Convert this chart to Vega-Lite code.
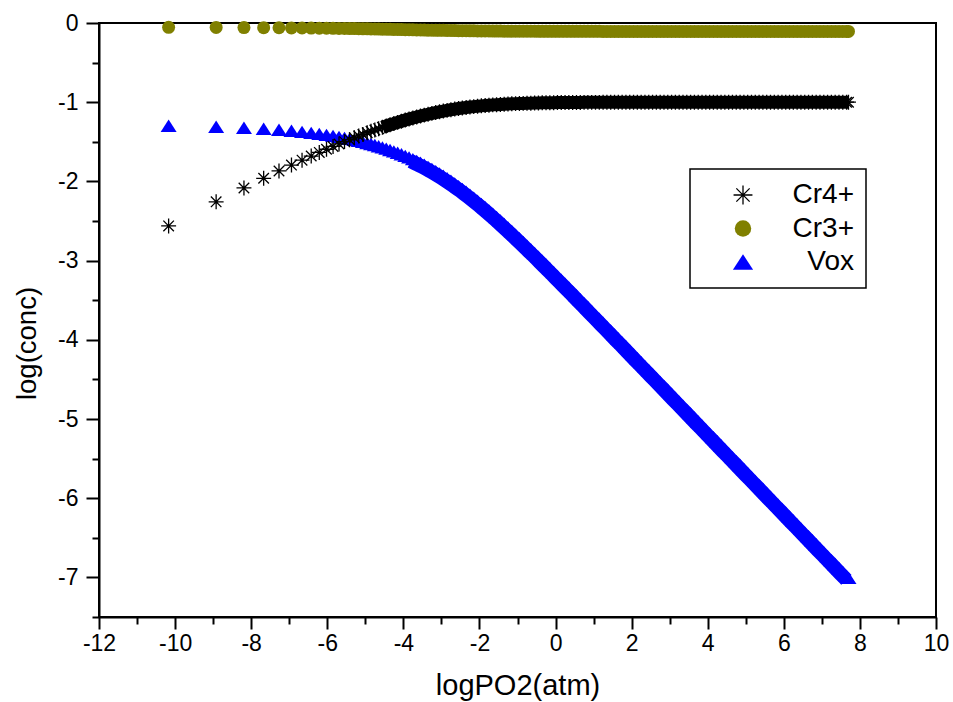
{
"$schema":"https://vega.github.io/schema/vega-lite/v6.json",
"width":837,"height":594,
"autosize":{"type":"none"},
"padding":{"left":99,"top":23,"right":17,"bottom":85},
"background":"white",
"config":{
"view":{"stroke":"black","strokeWidth":2},
"font":"Liberation Sans",
"axis":{"domainColor":"black","domainWidth":2,"tickColor":"black","tickWidth":2,"labelColor":"black","titleColor":"black","grid":false,"labelFont":"Liberation Sans","titleFont":"Liberation Sans","titleFontWeight":"normal"},
"legend":{"strokeWidth":1.5}
},
"data":{"values":[
{"x":-10.17,"y":-1.297,"s":"Vox"},{"x":-8.921,"y":-1.31,"s":"Vox"},{"x":-8.19,"y":-1.322,"s":"Vox"},{"x":-7.672,"y":-1.335,"s":"Vox"},{"x":-7.269,"y":-1.348,"s":"Vox"},{"x":-6.941,"y":-1.361,"s":"Vox"},{"x":-6.663,"y":-1.374,"s":"Vox"},{"x":-6.422,"y":-1.387,"s":"Vox"},{"x":-6.21,"y":-1.4,"s":"Vox"},{"x":-6.02,"y":-1.413,"s":"Vox"},{"x":-5.848,"y":-1.425,"s":"Vox"},{"x":-5.691,"y":-1.438,"s":"Vox"},{"x":-5.547,"y":-1.451,"s":"Vox"},{"x":-5.414,"y":-1.463,"s":"Vox"},{"x":-5.289,"y":-1.476,"s":"Vox"},{"x":-5.173,"y":-1.489,"s":"Vox"},{"x":-5.064,"y":-1.501,"s":"Vox"},
{"x":-4.95,"y":-1.515,"s":"Vox"},{"x":-4.85,"y":-1.528,"s":"Vox"},{"x":-4.75,"y":-1.541,"s":"Vox"},{"x":-4.65,"y":-1.556,"s":"Vox"},{"x":-4.55,"y":-1.57,"s":"Vox"},{"x":-4.45,"y":-1.586,"s":"Vox"},{"x":-4.35,"y":-1.603,"s":"Vox"},{"x":-4.25,"y":-1.62,"s":"Vox"},{"x":-4.15,"y":-1.638,"s":"Vox"},{"x":-4.05,"y":-1.657,"s":"Vox"},
{"x":-3.95,"y":-1.677,"s":"Vox"},{"x":-3.85,"y":-1.697,"s":"Vox"},{"x":-3.75,"y":-1.719,"s":"Vox"},{"x":-3.65,"y":-1.742,"s":"Vox"},{"x":-3.55,"y":-1.765,"s":"Vox"},{"x":-3.45,"y":-1.79,"s":"Vox"},{"x":-3.35,"y":-1.816,"s":"Vox"},{"x":-3.25,"y":-1.842,"s":"Vox"},{"x":-3.15,"y":-1.87,"s":"Vox"},{"x":-3.05,"y":-1.899,"s":"Vox"},
{"x":-2.95,"y":-1.929,"s":"Vox"},{"x":-2.85,"y":-1.96,"s":"Vox"},{"x":-2.75,"y":-1.992,"s":"Vox"},{"x":-2.65,"y":-2.025,"s":"Vox"},{"x":-2.55,"y":-2.059,"s":"Vox"},{"x":-2.45,"y":-2.094,"s":"Vox"},{"x":-2.35,"y":-2.13,"s":"Vox"},{"x":-2.25,"y":-2.167,"s":"Vox"},{"x":-2.15,"y":-2.205,"s":"Vox"},{"x":-2.05,"y":-2.244,"s":"Vox"},
{"x":-1.95,"y":-2.283,"s":"Vox"},{"x":-1.85,"y":-2.324,"s":"Vox"},{"x":-1.75,"y":-2.365,"s":"Vox"},{"x":-1.65,"y":-2.407,"s":"Vox"},{"x":-1.55,"y":-2.45,"s":"Vox"},{"x":-1.45,"y":-2.493,"s":"Vox"},{"x":-1.35,"y":-2.537,"s":"Vox"},{"x":-1.25,"y":-2.581,"s":"Vox"},{"x":-1.15,"y":-2.626,"s":"Vox"},{"x":-1.05,"y":-2.672,"s":"Vox"},
{"x":-0.95,"y":-2.717,"s":"Vox"},{"x":-0.85,"y":-2.764,"s":"Vox"},{"x":-0.75,"y":-2.81,"s":"Vox"},{"x":-0.65,"y":-2.857,"s":"Vox"},{"x":-0.55,"y":-2.904,"s":"Vox"},{"x":-0.45,"y":-2.952,"s":"Vox"},{"x":-0.35,"y":-3.0,"s":"Vox"},{"x":-0.25,"y":-3.048,"s":"Vox"},{"x":-0.15,"y":-3.096,"s":"Vox"},{"x":-0.05,"y":-3.144,"s":"Vox"},
{"x":0.05,"y":-3.193,"s":"Vox"},{"x":0.15,"y":-3.242,"s":"Vox"},{"x":0.25,"y":-3.29,"s":"Vox"},{"x":0.35,"y":-3.339,"s":"Vox"},{"x":0.45,"y":-3.388,"s":"Vox"},{"x":0.55,"y":-3.438,"s":"Vox"},{"x":0.65,"y":-3.487,"s":"Vox"},{"x":0.75,"y":-3.536,"s":"Vox"},{"x":0.85,"y":-3.586,"s":"Vox"},{"x":0.95,"y":-3.635,"s":"Vox"},
{"x":1.05,"y":-3.685,"s":"Vox"},{"x":1.15,"y":-3.734,"s":"Vox"},{"x":1.25,"y":-3.784,"s":"Vox"},{"x":1.35,"y":-3.834,"s":"Vox"},{"x":1.45,"y":-3.883,"s":"Vox"},{"x":1.55,"y":-3.933,"s":"Vox"},{"x":1.65,"y":-3.983,"s":"Vox"},{"x":1.75,"y":-4.032,"s":"Vox"},{"x":1.85,"y":-4.082,"s":"Vox"},{"x":1.95,"y":-4.132,"s":"Vox"},
{"x":2.05,"y":-4.182,"s":"Vox"},{"x":2.15,"y":-4.232,"s":"Vox"},{"x":2.25,"y":-4.282,"s":"Vox"},{"x":2.35,"y":-4.332,"s":"Vox"},{"x":2.45,"y":-4.381,"s":"Vox"},{"x":2.55,"y":-4.431,"s":"Vox"},{"x":2.65,"y":-4.481,"s":"Vox"},{"x":2.75,"y":-4.531,"s":"Vox"},{"x":2.85,"y":-4.581,"s":"Vox"},{"x":2.95,"y":-4.631,"s":"Vox"},
{"x":3.05,"y":-4.681,"s":"Vox"},{"x":3.15,"y":-4.731,"s":"Vox"},{"x":3.25,"y":-4.781,"s":"Vox"},{"x":3.35,"y":-4.831,"s":"Vox"},{"x":3.45,"y":-4.881,"s":"Vox"},{"x":3.55,"y":-4.931,"s":"Vox"},{"x":3.65,"y":-4.981,"s":"Vox"},{"x":3.75,"y":-5.031,"s":"Vox"},{"x":3.85,"y":-5.081,"s":"Vox"},{"x":3.95,"y":-5.131,"s":"Vox"},
{"x":4.05,"y":-5.181,"s":"Vox"},{"x":4.15,"y":-5.231,"s":"Vox"},{"x":4.25,"y":-5.281,"s":"Vox"},{"x":4.35,"y":-5.331,"s":"Vox"},{"x":4.45,"y":-5.381,"s":"Vox"},{"x":4.55,"y":-5.431,"s":"Vox"},{"x":4.65,"y":-5.481,"s":"Vox"},{"x":4.75,"y":-5.531,"s":"Vox"},{"x":4.85,"y":-5.581,"s":"Vox"},{"x":4.95,"y":-5.631,"s":"Vox"},
{"x":5.05,"y":-5.681,"s":"Vox"},{"x":5.15,"y":-5.731,"s":"Vox"},{"x":5.25,"y":-5.781,"s":"Vox"},{"x":5.35,"y":-5.831,"s":"Vox"},{"x":5.45,"y":-5.881,"s":"Vox"},{"x":5.55,"y":-5.931,"s":"Vox"},{"x":5.65,"y":-5.981,"s":"Vox"},{"x":5.75,"y":-6.031,"s":"Vox"},{"x":5.85,"y":-6.081,"s":"Vox"},{"x":5.95,"y":-6.131,"s":"Vox"},
{"x":6.05,"y":-6.181,"s":"Vox"},{"x":6.15,"y":-6.231,"s":"Vox"},{"x":6.25,"y":-6.281,"s":"Vox"},{"x":6.35,"y":-6.331,"s":"Vox"},{"x":6.45,"y":-6.381,"s":"Vox"},{"x":6.55,"y":-6.431,"s":"Vox"},{"x":6.65,"y":-6.481,"s":"Vox"},{"x":6.75,"y":-6.531,"s":"Vox"},{"x":6.85,"y":-6.581,"s":"Vox"},{"x":6.95,"y":-6.631,"s":"Vox"},
{"x":7.05,"y":-6.681,"s":"Vox"},{"x":7.15,"y":-6.731,"s":"Vox"},{"x":7.25,"y":-6.781,"s":"Vox"},{"x":7.35,"y":-6.831,"s":"Vox"},{"x":7.45,"y":-6.881,"s":"Vox"},{"x":7.55,"y":-6.931,"s":"Vox"},{"x":7.65,"y":-6.981,"s":"Vox"},{"x":7.7,"y":-7.006,"s":"Vox"},

{"x":-10.17,"y":-0.055,"s":"Cr3+"},{"x":-8.921,"y":-0.056,"s":"Cr3+"},{"x":-8.19,"y":-0.058,"s":"Cr3+"},{"x":-7.672,"y":-0.059,"s":"Cr3+"},{"x":-7.269,"y":-0.06,"s":"Cr3+"},{"x":-6.941,"y":-0.062,"s":"Cr3+"},{"x":-6.663,"y":-0.063,"s":"Cr3+"},{"x":-6.422,"y":-0.064,"s":"Cr3+"},{"x":-6.21,"y":-0.065,"s":"Cr3+"},{"x":-6.02,"y":-0.066,"s":"Cr3+"},{"x":-5.848,"y":-0.067,"s":"Cr3+"},{"x":-5.691,"y":-0.068,"s":"Cr3+"},{"x":-5.547,"y":-0.069,"s":"Cr3+"},{"x":-5.414,"y":-0.07,"s":"Cr3+"},{"x":-5.289,"y":-0.071,"s":"Cr3+"},{"x":-5.173,"y":-0.072,"s":"Cr3+"},{"x":-5.064,"y":-0.073,"s":"Cr3+"},
{"x":-4.95,"y":-0.074,"s":"Cr3+"},{"x":-4.85,"y":-0.075,"s":"Cr3+"},{"x":-4.75,"y":-0.076,"s":"Cr3+"},{"x":-4.65,"y":-0.077,"s":"Cr3+"},{"x":-4.55,"y":-0.078,"s":"Cr3+"},{"x":-4.45,"y":-0.079,"s":"Cr3+"},{"x":-4.35,"y":-0.08,"s":"Cr3+"},{"x":-4.25,"y":-0.081,"s":"Cr3+"},{"x":-4.15,"y":-0.082,"s":"Cr3+"},{"x":-4.05,"y":-0.083,"s":"Cr3+"},
{"x":-3.95,"y":-0.084,"s":"Cr3+"},{"x":-3.85,"y":-0.085,"s":"Cr3+"},{"x":-3.75,"y":-0.086,"s":"Cr3+"},{"x":-3.65,"y":-0.087,"s":"Cr3+"},{"x":-3.55,"y":-0.088,"s":"Cr3+"},{"x":-3.45,"y":-0.089,"s":"Cr3+"},{"x":-3.35,"y":-0.09,"s":"Cr3+"},{"x":-3.25,"y":-0.091,"s":"Cr3+"},{"x":-3.15,"y":-0.092,"s":"Cr3+"},{"x":-3.05,"y":-0.093,"s":"Cr3+"},
{"x":-2.95,"y":-0.093,"s":"Cr3+"},{"x":-2.85,"y":-0.094,"s":"Cr3+"},{"x":-2.75,"y":-0.095,"s":"Cr3+"},{"x":-2.65,"y":-0.096,"s":"Cr3+"},{"x":-2.55,"y":-0.097,"s":"Cr3+"},{"x":-2.45,"y":-0.097,"s":"Cr3+"},{"x":-2.35,"y":-0.098,"s":"Cr3+"},{"x":-2.25,"y":-0.099,"s":"Cr3+"},{"x":-2.15,"y":-0.099,"s":"Cr3+"},{"x":-2.05,"y":-0.1,"s":"Cr3+"},
{"x":-1.95,"y":-0.1,"s":"Cr3+"},{"x":-1.85,"y":-0.101,"s":"Cr3+"},{"x":-1.75,"y":-0.101,"s":"Cr3+"},{"x":-1.65,"y":-0.102,"s":"Cr3+"},{"x":-1.55,"y":-0.102,"s":"Cr3+"},{"x":-1.45,"y":-0.102,"s":"Cr3+"},{"x":-1.35,"y":-0.103,"s":"Cr3+"},{"x":-1.25,"y":-0.103,"s":"Cr3+"},{"x":-1.15,"y":-0.103,"s":"Cr3+"},{"x":-1.05,"y":-0.103,"s":"Cr3+"},
{"x":-0.95,"y":-0.104,"s":"Cr3+"},{"x":-0.85,"y":-0.104,"s":"Cr3+"},{"x":-0.75,"y":-0.104,"s":"Cr3+"},{"x":-0.65,"y":-0.104,"s":"Cr3+"},{"x":-0.55,"y":-0.104,"s":"Cr3+"},{"x":-0.45,"y":-0.105,"s":"Cr3+"},{"x":-0.35,"y":-0.105,"s":"Cr3+"},{"x":-0.25,"y":-0.105,"s":"Cr3+"},{"x":-0.15,"y":-0.105,"s":"Cr3+"},{"x":-0.05,"y":-0.105,"s":"Cr3+"},
{"x":0.05,"y":-0.105,"s":"Cr3+"},{"x":0.15,"y":-0.105,"s":"Cr3+"},{"x":0.25,"y":-0.105,"s":"Cr3+"},{"x":0.35,"y":-0.105,"s":"Cr3+"},{"x":0.45,"y":-0.105,"s":"Cr3+"},{"x":0.55,"y":-0.105,"s":"Cr3+"},{"x":0.65,"y":-0.105,"s":"Cr3+"},{"x":0.75,"y":-0.105,"s":"Cr3+"},{"x":0.85,"y":-0.105,"s":"Cr3+"},{"x":0.95,"y":-0.105,"s":"Cr3+"},
{"x":1.05,"y":-0.105,"s":"Cr3+"},{"x":1.15,"y":-0.105,"s":"Cr3+"},{"x":1.25,"y":-0.106,"s":"Cr3+"},{"x":1.35,"y":-0.106,"s":"Cr3+"},{"x":1.45,"y":-0.106,"s":"Cr3+"},{"x":1.55,"y":-0.106,"s":"Cr3+"},{"x":1.65,"y":-0.106,"s":"Cr3+"},{"x":1.75,"y":-0.106,"s":"Cr3+"},{"x":1.85,"y":-0.106,"s":"Cr3+"},{"x":1.95,"y":-0.106,"s":"Cr3+"},
{"x":2.05,"y":-0.106,"s":"Cr3+"},{"x":2.15,"y":-0.106,"s":"Cr3+"},{"x":2.25,"y":-0.106,"s":"Cr3+"},{"x":2.35,"y":-0.106,"s":"Cr3+"},{"x":2.45,"y":-0.106,"s":"Cr3+"},{"x":2.55,"y":-0.106,"s":"Cr3+"},{"x":2.65,"y":-0.106,"s":"Cr3+"},{"x":2.75,"y":-0.106,"s":"Cr3+"},{"x":2.85,"y":-0.106,"s":"Cr3+"},{"x":2.95,"y":-0.106,"s":"Cr3+"},
{"x":3.05,"y":-0.106,"s":"Cr3+"},{"x":3.15,"y":-0.106,"s":"Cr3+"},{"x":3.25,"y":-0.106,"s":"Cr3+"},{"x":3.35,"y":-0.106,"s":"Cr3+"},{"x":3.45,"y":-0.106,"s":"Cr3+"},{"x":3.55,"y":-0.106,"s":"Cr3+"},{"x":3.65,"y":-0.106,"s":"Cr3+"},{"x":3.75,"y":-0.106,"s":"Cr3+"},{"x":3.85,"y":-0.106,"s":"Cr3+"},{"x":3.95,"y":-0.106,"s":"Cr3+"},
{"x":4.05,"y":-0.106,"s":"Cr3+"},{"x":4.15,"y":-0.106,"s":"Cr3+"},{"x":4.25,"y":-0.106,"s":"Cr3+"},{"x":4.35,"y":-0.106,"s":"Cr3+"},{"x":4.45,"y":-0.106,"s":"Cr3+"},{"x":4.55,"y":-0.106,"s":"Cr3+"},{"x":4.65,"y":-0.106,"s":"Cr3+"},{"x":4.75,"y":-0.106,"s":"Cr3+"},{"x":4.85,"y":-0.106,"s":"Cr3+"},{"x":4.95,"y":-0.106,"s":"Cr3+"},
{"x":5.05,"y":-0.106,"s":"Cr3+"},{"x":5.15,"y":-0.106,"s":"Cr3+"},{"x":5.25,"y":-0.106,"s":"Cr3+"},{"x":5.35,"y":-0.106,"s":"Cr3+"},{"x":5.45,"y":-0.106,"s":"Cr3+"},{"x":5.55,"y":-0.106,"s":"Cr3+"},{"x":5.65,"y":-0.106,"s":"Cr3+"},{"x":5.75,"y":-0.106,"s":"Cr3+"},{"x":5.85,"y":-0.106,"s":"Cr3+"},{"x":5.95,"y":-0.106,"s":"Cr3+"},
{"x":6.05,"y":-0.106,"s":"Cr3+"},{"x":6.15,"y":-0.106,"s":"Cr3+"},{"x":6.25,"y":-0.106,"s":"Cr3+"},{"x":6.35,"y":-0.106,"s":"Cr3+"},{"x":6.45,"y":-0.106,"s":"Cr3+"},{"x":6.55,"y":-0.106,"s":"Cr3+"},{"x":6.65,"y":-0.106,"s":"Cr3+"},{"x":6.75,"y":-0.106,"s":"Cr3+"},{"x":6.85,"y":-0.106,"s":"Cr3+"},{"x":6.95,"y":-0.106,"s":"Cr3+"},
{"x":7.05,"y":-0.106,"s":"Cr3+"},{"x":7.15,"y":-0.106,"s":"Cr3+"},{"x":7.25,"y":-0.106,"s":"Cr3+"},{"x":7.35,"y":-0.106,"s":"Cr3+"},{"x":7.45,"y":-0.106,"s":"Cr3+"},{"x":7.55,"y":-0.106,"s":"Cr3+"},{"x":7.65,"y":-0.106,"s":"Cr3+"},{"x":7.7,"y":-0.106,"s":"Cr3+"},

{"x":-10.17,"y":-2.562,"s":"Cr4+"},{"x":-8.921,"y":-2.258,"s":"Cr4+"},{"x":-8.19,"y":-2.083,"s":"Cr4+"},{"x":-7.672,"y":-1.961,"s":"Cr4+"},{"x":-7.269,"y":-1.868,"s":"Cr4+"},{"x":-6.941,"y":-1.794,"s":"Cr4+"},{"x":-6.663,"y":-1.732,"s":"Cr4+"},{"x":-6.422,"y":-1.68,"s":"Cr4+"},{"x":-6.21,"y":-1.634,"s":"Cr4+"},{"x":-6.02,"y":-1.594,"s":"Cr4+"},{"x":-5.848,"y":-1.559,"s":"Cr4+"},{"x":-5.691,"y":-1.527,"s":"Cr4+"},{"x":-5.547,"y":-1.498,"s":"Cr4+"},{"x":-5.414,"y":-1.473,"s":"Cr4+"},{"x":-5.289,"y":-1.449,"s":"Cr4+"},{"x":-5.173,"y":-1.427,"s":"Cr4+"},{"x":-5.064,"y":-1.407,"s":"Cr4+"},
{"x":-4.95,"y":-1.386,"s":"Cr4+"},{"x":-4.85,"y":-1.368,"s":"Cr4+"},{"x":-4.75,"y":-1.351,"s":"Cr4+"},{"x":-4.65,"y":-1.334,"s":"Cr4+"},{"x":-4.55,"y":-1.317,"s":"Cr4+"},{"x":-4.45,"y":-1.301,"s":"Cr4+"},{"x":-4.35,"y":-1.285,"s":"Cr4+"},{"x":-4.25,"y":-1.27,"s":"Cr4+"},{"x":-4.15,"y":-1.255,"s":"Cr4+"},{"x":-4.05,"y":-1.24,"s":"Cr4+"},
{"x":-3.95,"y":-1.226,"s":"Cr4+"},{"x":-3.85,"y":-1.212,"s":"Cr4+"},{"x":-3.75,"y":-1.199,"s":"Cr4+"},{"x":-3.65,"y":-1.187,"s":"Cr4+"},{"x":-3.55,"y":-1.174,"s":"Cr4+"},{"x":-3.45,"y":-1.163,"s":"Cr4+"},{"x":-3.35,"y":-1.152,"s":"Cr4+"},{"x":-3.25,"y":-1.141,"s":"Cr4+"},{"x":-3.15,"y":-1.131,"s":"Cr4+"},{"x":-3.05,"y":-1.121,"s":"Cr4+"},
{"x":-2.95,"y":-1.112,"s":"Cr4+"},{"x":-2.85,"y":-1.103,"s":"Cr4+"},{"x":-2.75,"y":-1.095,"s":"Cr4+"},{"x":-2.65,"y":-1.087,"s":"Cr4+"},{"x":-2.55,"y":-1.08,"s":"Cr4+"},{"x":-2.45,"y":-1.073,"s":"Cr4+"},{"x":-2.35,"y":-1.067,"s":"Cr4+"},{"x":-2.25,"y":-1.061,"s":"Cr4+"},{"x":-2.15,"y":-1.056,"s":"Cr4+"},{"x":-2.05,"y":-1.051,"s":"Cr4+"},
{"x":-1.95,"y":-1.046,"s":"Cr4+"},{"x":-1.85,"y":-1.042,"s":"Cr4+"},{"x":-1.75,"y":-1.038,"s":"Cr4+"},{"x":-1.65,"y":-1.034,"s":"Cr4+"},{"x":-1.55,"y":-1.031,"s":"Cr4+"},{"x":-1.45,"y":-1.028,"s":"Cr4+"},{"x":-1.35,"y":-1.025,"s":"Cr4+"},{"x":-1.25,"y":-1.023,"s":"Cr4+"},{"x":-1.15,"y":-1.02,"s":"Cr4+"},{"x":-1.05,"y":-1.018,"s":"Cr4+"},
{"x":-0.95,"y":-1.016,"s":"Cr4+"},{"x":-0.85,"y":-1.015,"s":"Cr4+"},{"x":-0.75,"y":-1.013,"s":"Cr4+"},{"x":-0.65,"y":-1.012,"s":"Cr4+"},{"x":-0.55,"y":-1.011,"s":"Cr4+"},{"x":-0.45,"y":-1.009,"s":"Cr4+"},{"x":-0.35,"y":-1.008,"s":"Cr4+"},{"x":-0.25,"y":-1.008,"s":"Cr4+"},{"x":-0.15,"y":-1.007,"s":"Cr4+"},{"x":-0.05,"y":-1.006,"s":"Cr4+"},
{"x":0.05,"y":-1.005,"s":"Cr4+"},{"x":0.15,"y":-1.005,"s":"Cr4+"},{"x":0.25,"y":-1.004,"s":"Cr4+"},{"x":0.35,"y":-1.004,"s":"Cr4+"},{"x":0.45,"y":-1.003,"s":"Cr4+"},{"x":0.55,"y":-1.003,"s":"Cr4+"},{"x":0.65,"y":-1.003,"s":"Cr4+"},{"x":0.75,"y":-1.002,"s":"Cr4+"},{"x":0.85,"y":-1.002,"s":"Cr4+"},{"x":0.95,"y":-1.002,"s":"Cr4+"},
{"x":1.05,"y":-1.002,"s":"Cr4+"},{"x":1.15,"y":-1.002,"s":"Cr4+"},{"x":1.25,"y":-1.001,"s":"Cr4+"},{"x":1.35,"y":-1.001,"s":"Cr4+"},{"x":1.45,"y":-1.001,"s":"Cr4+"},{"x":1.55,"y":-1.001,"s":"Cr4+"},{"x":1.65,"y":-1.001,"s":"Cr4+"},{"x":1.75,"y":-1.001,"s":"Cr4+"},{"x":1.85,"y":-1.001,"s":"Cr4+"},{"x":1.95,"y":-1.001,"s":"Cr4+"},
{"x":2.05,"y":-1.001,"s":"Cr4+"},{"x":2.15,"y":-1.0,"s":"Cr4+"},{"x":2.25,"y":-1.0,"s":"Cr4+"},{"x":2.35,"y":-1.0,"s":"Cr4+"},{"x":2.45,"y":-1.0,"s":"Cr4+"},{"x":2.55,"y":-1.0,"s":"Cr4+"},{"x":2.65,"y":-1.0,"s":"Cr4+"},{"x":2.75,"y":-1.0,"s":"Cr4+"},{"x":2.85,"y":-1.0,"s":"Cr4+"},{"x":2.95,"y":-1.0,"s":"Cr4+"},
{"x":3.05,"y":-1.0,"s":"Cr4+"},{"x":3.15,"y":-1.0,"s":"Cr4+"},{"x":3.25,"y":-1.0,"s":"Cr4+"},{"x":3.35,"y":-1.0,"s":"Cr4+"},{"x":3.45,"y":-1.0,"s":"Cr4+"},{"x":3.55,"y":-1.0,"s":"Cr4+"},{"x":3.65,"y":-1.0,"s":"Cr4+"},{"x":3.75,"y":-1.0,"s":"Cr4+"},{"x":3.85,"y":-1.0,"s":"Cr4+"},{"x":3.95,"y":-1.0,"s":"Cr4+"},
{"x":4.05,"y":-1.0,"s":"Cr4+"},{"x":4.15,"y":-1.0,"s":"Cr4+"},{"x":4.25,"y":-1.0,"s":"Cr4+"},{"x":4.35,"y":-1.0,"s":"Cr4+"},{"x":4.45,"y":-1.0,"s":"Cr4+"},{"x":4.55,"y":-1.0,"s":"Cr4+"},{"x":4.65,"y":-1.0,"s":"Cr4+"},{"x":4.75,"y":-1.0,"s":"Cr4+"},{"x":4.85,"y":-1.0,"s":"Cr4+"},{"x":4.95,"y":-1.0,"s":"Cr4+"},
{"x":5.05,"y":-1.0,"s":"Cr4+"},{"x":5.15,"y":-1.0,"s":"Cr4+"},{"x":5.25,"y":-1.0,"s":"Cr4+"},{"x":5.35,"y":-1.0,"s":"Cr4+"},{"x":5.45,"y":-1.0,"s":"Cr4+"},{"x":5.55,"y":-1.0,"s":"Cr4+"},{"x":5.65,"y":-1.0,"s":"Cr4+"},{"x":5.75,"y":-1.0,"s":"Cr4+"},{"x":5.85,"y":-1.0,"s":"Cr4+"},{"x":5.95,"y":-1.0,"s":"Cr4+"},
{"x":6.05,"y":-1.0,"s":"Cr4+"},{"x":6.15,"y":-1.0,"s":"Cr4+"},{"x":6.25,"y":-1.0,"s":"Cr4+"},{"x":6.35,"y":-1.0,"s":"Cr4+"},{"x":6.45,"y":-1.0,"s":"Cr4+"},{"x":6.55,"y":-1.0,"s":"Cr4+"},{"x":6.65,"y":-1.0,"s":"Cr4+"},{"x":6.75,"y":-1.0,"s":"Cr4+"},{"x":6.85,"y":-1.0,"s":"Cr4+"},{"x":6.95,"y":-1.0,"s":"Cr4+"},
{"x":7.05,"y":-1.0,"s":"Cr4+"},{"x":7.15,"y":-1.0,"s":"Cr4+"},{"x":7.25,"y":-1.0,"s":"Cr4+"},{"x":7.35,"y":-1.0,"s":"Cr4+"},{"x":7.45,"y":-1.0,"s":"Cr4+"},{"x":7.55,"y":-1.0,"s":"Cr4+"},{"x":7.65,"y":-1.0,"s":"Cr4+"},{"x":7.7,"y":-1.0,"s":"Cr4+"}
]},
"encoding":{
"x":{"field":"x","type":"quantitative","scale":{"domain":[-12,10],"nice":false,"zero":false},
 "axis":{"values":[-12,-11,-10,-9,-8,-7,-6,-5,-4,-3,-2,-1,0,1,2,3,4,5,6,7,8,9,10],
  "tickSize":{"condition":{"test":"datum.value % 2 === 0","value":12},"value":7},
  "labelExpr":"datum.value % 2 === 0 ? '' + datum.value : ''",
  "labelFontSize":23,"labelPadding":3,"labelOverlap":false,"labelFlush":false,
  "title":"logPO2(atm)","titleFontSize":29,"titleY":77,"titleBaseline":"alphabetic"}},
"y":{"field":"y","type":"quantitative","scale":{"domain":[-7.5,0],"nice":false,"zero":false},
 "axis":{"values":[0,-0.5,-1,-1.5,-2,-2.5,-3,-3.5,-4,-4.5,-5,-5.5,-6,-6.5,-7,-7.5],
  "tickSize":{"condition":{"test":"datum.value % 1 === 0","value":13},"value":7},
  "labelExpr":"datum.value % 1 === 0 ? '' + datum.value : ''",
  "labelFontSize":23,"labelPadding":8,"labelOverlap":false,"labelFlush":false,
  "title":"log(conc)","titleFontSize":27.5,"titleAngle":-90,"titleX":-64,"titleY":320,"titleBaseline":"alphabetic","titleAlign":"center"}}
},
"layer":[
{"transform":[{"filter":"datum.s === 'Vox' && datum.x >= -3.8"}],
 "mark":{"type":"line","color":"#0000ff","strokeWidth":14.3,"xOffset":-2.08,"yOffset":2.0,"strokeCap":"butt"}},
{"transform":[{"filter":"datum.s === 'Cr4+' && datum.x >= -4.6"}],
 "mark":{"type":"line","color":"#000000","strokeWidth":13,"strokeCap":"butt"}},
{"mark":{"type":"point","filled":true,"opacity":1,"size":169,"strokeWidth":1.3},
 "encoding":{
 "shape":{"field":"s","type":"nominal","scale":{"domain":["Cr4+","Cr3+","Vox"],"range":["M0,-1.15L0,1.15M-1.15,0L1.15,0M-0.81,-0.81L0.81,0.81M-0.81,0.81L0.81,-0.81","circle","M0,-0.95L1.23,0.95L-1.23,0.95Z"]},
  "legend":{"orient":"none","legendX":591,"legendY":146,"title":null,"padding":12,"labelFontSize":28,"labelFont":"Liberation Sans","labelColor":"black","labelAlign":"right","labelOffset":97,"symbolOffset":27,"symbolSize":270,"symbolStrokeWidth":1.3,"rowPadding":5.5,"strokeColor":"black","fillColor":"white"}},
 "fill":{"field":"s","type":"nominal","scale":{"domain":["Cr4+","Cr3+","Vox"],"range":["#000000","#808000","#0000ff"]}},
 "stroke":{"field":"s","type":"nominal","scale":{"domain":["Cr4+","Cr3+","Vox"],"range":["#000000","transparent","transparent"]}}
 }}
]
}
